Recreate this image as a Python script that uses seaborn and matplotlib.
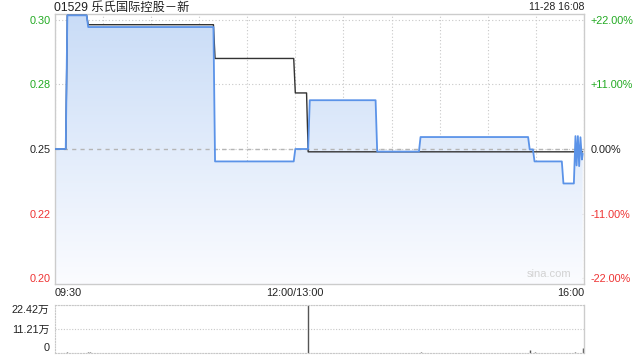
import numpy as np
import pandas as pd
import matplotlib
matplotlib.use("Agg")
import matplotlib.pyplot as plt
import seaborn as sns
from matplotlib.colors import LinearSegmentedColormap

# ---------------- data ----------------
title = "01529 乐氏国际控股－新"
stamp = "11-28 16:08"
prev_close = 0.25

# minutes since 09:30 (lunch break removed), price
price_t = [0, 7, 8, 20, 21, 99, 100, 149, 150, 158, 159, 200, 201, 227, 228,
           295, 296, 298, 299, 316, 317, 323.5, 324.5, 325.2, 326.0, 326.8,
           327.6, 328.5, 329.0]
price_v = [0.25, 0.25, 0.307, 0.307, 0.302, 0.302, 0.2447, 0.2447, 0.25, 0.25,
           0.2708, 0.2708, 0.2489, 0.2489, 0.2551, 0.2551, 0.2498, 0.2498,
           0.2447, 0.2447, 0.2353, 0.2353, 0.2555, 0.2430, 0.2555, 0.2427,
           0.2550, 0.2455, 0.2480]

avg_t = [0, 7, 8, 20, 21, 99, 100, 149, 150, 157, 158, 329]
avg_v = [0.25, 0.25, 0.307, 0.307, 0.303, 0.303, 0.2886, 0.2886, 0.2739,
         0.2739, 0.2488, 0.2488]

vol_t = [8, 21, 22, 100, 150, 158, 200, 228, 296, 299, 317, 324, 329]
vol_v = [3000, 4000, 5000, 2000, 2000, 224200, 2000, 3000, 14000, 3000, 2000,
         5000, 23000]

pct_vals = [-0.22, -0.11, 0.0, 0.11, 0.22]
price_labels = ["0.20", "0.22", "0.25", "0.28", "0.30"]
pct_labels = ["-22.00%", "-11.00%", "0.00%", "+11.00%", "+22.00%"]
x_ticks = [0, 150, 330]
x_labels = ["09:30", "12:00/13:00", "16:00"]
vol_ticks = [0, 112100, 224200]
vol_labels = ["0", "11.21万", "22.42万"]

# ---------------- style ----------------
sns.set_style("white")
plt.rcParams["font.family"] = ["Liberation Sans", "Noto Sans CJK SC", "DejaVu Sans"]

GREEN = "#22aa22"
RED = "#ee3333"
DARK = "#222222"
BLUE = "#5b93e8"
GRID = "#c8c8c8"

fig = plt.figure(figsize=(6.4, 3.6), dpi=100)
L, R = 54.5 / 640, 584.3 / 640
ax = fig.add_axes([L, 1 - 284 / 360, R - L, (284 - 14) / 360])
axv = fig.add_axes([L, 1 - 353 / 360, R - L, (353 - 305) / 360])

ppx = 0.44 * prev_close / 258.0  # price per pixel
ylo = prev_close * (1 - 0.22) - 6 * ppx
yhi = prev_close * (1 + 0.22) + 6 * ppx

# gradient fill under price line
poly = ax.fill_between(price_t, price_v, ylo, color="none", lw=0)
cmap = LinearSegmentedColormap.from_list("g", ["#fbfcff", "#c9dcf7"])
grad = np.linspace(1, 0, 256).reshape(-1, 1)
im = ax.imshow(grad, extent=[0, 330, ylo, yhi], aspect="auto", cmap=cmap,
               origin="upper", zorder=1)
im.set_clip_path(poly.get_paths()[0], transform=ax.transData)

price_df = pd.DataFrame({"t": price_t, "p": price_v})
avg_df = pd.DataFrame({"t": avg_t, "p": avg_v})
sns.lineplot(data=avg_df, x="t", y="p", ax=ax, color="#333333", lw=1.0,
             estimator=None, sort=False, zorder=4)
sns.lineplot(data=price_df, x="t", y="p", ax=ax, color=BLUE, lw=1.3,
             estimator=None, sort=False, zorder=5)

ax.axhline(prev_close, color="#b5b5b5", lw=1.0, ls=(0, (3, 3)), zorder=3)

price_ticks = [prev_close * (1 + p) for p in pct_vals]
ax.set_xlim(0, 330)
ax.set_ylim(ylo, yhi)
ax.set_yticks(price_ticks)
ax.set_yticklabels(price_labels)
ax.set_xticks(list(range(0, 331, 30)))
xl = [""] * 12
for t, lab in zip(x_ticks, x_labels):
    xl[t // 30] = lab
ax.set_xticklabels(xl)
ax.grid(True, color=GRID, lw=0.8, ls=(0, (1, 2)), zorder=2)
ax.set_xlabel("")
ax.set_ylabel("")
ax.tick_params(axis="both", length=0, labelsize=7.8)
ax.tick_params(axis="y", pad=2.5)
ax.tick_params(axis="x", pad=3.0, colors=DARK)
lbls = ax.get_xticklabels()
lbls[0].set_ha("left")
lbls[-1].set_ha("right")
ycols = [RED, RED, DARK, GREEN, GREEN]
for lab, c in zip(ax.get_yticklabels(), ycols):
    lab.set_color(c)
for s in ax.spines.values():
    s.set_color("#cccccc")
    s.set_linewidth(1.0)

ax2 = ax.twinx()
ax2.set_ylim(ylo, yhi)
ax2.set_yticks(price_ticks)
ax2.set_yticklabels(pct_labels)
ax2.tick_params(axis="y", length=0, labelsize=7.8, pad=4.3)
for lab, c in zip(ax2.get_yticklabels(), ycols):
    lab.set_color(c)
for s in ax2.spines.values():
    s.set_visible(False)

ax.text(0.975, 0.018, "sina.com", transform=ax.transAxes, ha="right", va="bottom",
        fontsize=8, color="#d2d2d2", zorder=6)

fig.text(L, 1 - 7.5 / 360, title, ha="left", va="center", fontsize=8.8, color=DARK)
fig.text(R, 1 - 7.5 / 360, stamp, ha="right", va="center", fontsize=7.6, color=DARK)

# ---------------- volume ----------------
axv.vlines(vol_t, 0, vol_v, color="#555555", lw=1.0)
axv.set_xlim(0, 330)
axv.set_ylim(0, 224200)
axv.set_yticks(vol_ticks)
axv.set_yticklabels(vol_labels)
axv.set_xticks([])
axv.grid(True, axis="y", color=GRID, lw=0.8, ls=(0, (1, 1.5)))
axv.tick_params(axis="y", length=0, labelsize=7.8, pad=3.5, colors=DARK)
vl = axv.get_yticklabels()
vl[0].set_va("bottom")
vl[-1].set_va("top")
for k in ["top", "left", "bottom"]:
    axv.spines[k].set_color(GRID)
    axv.spines[k].set_linestyle((0, (1, 1.5)))
    axv.spines[k].set_linewidth(0.8)
axv.spines["right"].set_color("#cccccc")
axv.spines["right"].set_linewidth(1.0)

fig.savefig("out.png", dpi=100)
